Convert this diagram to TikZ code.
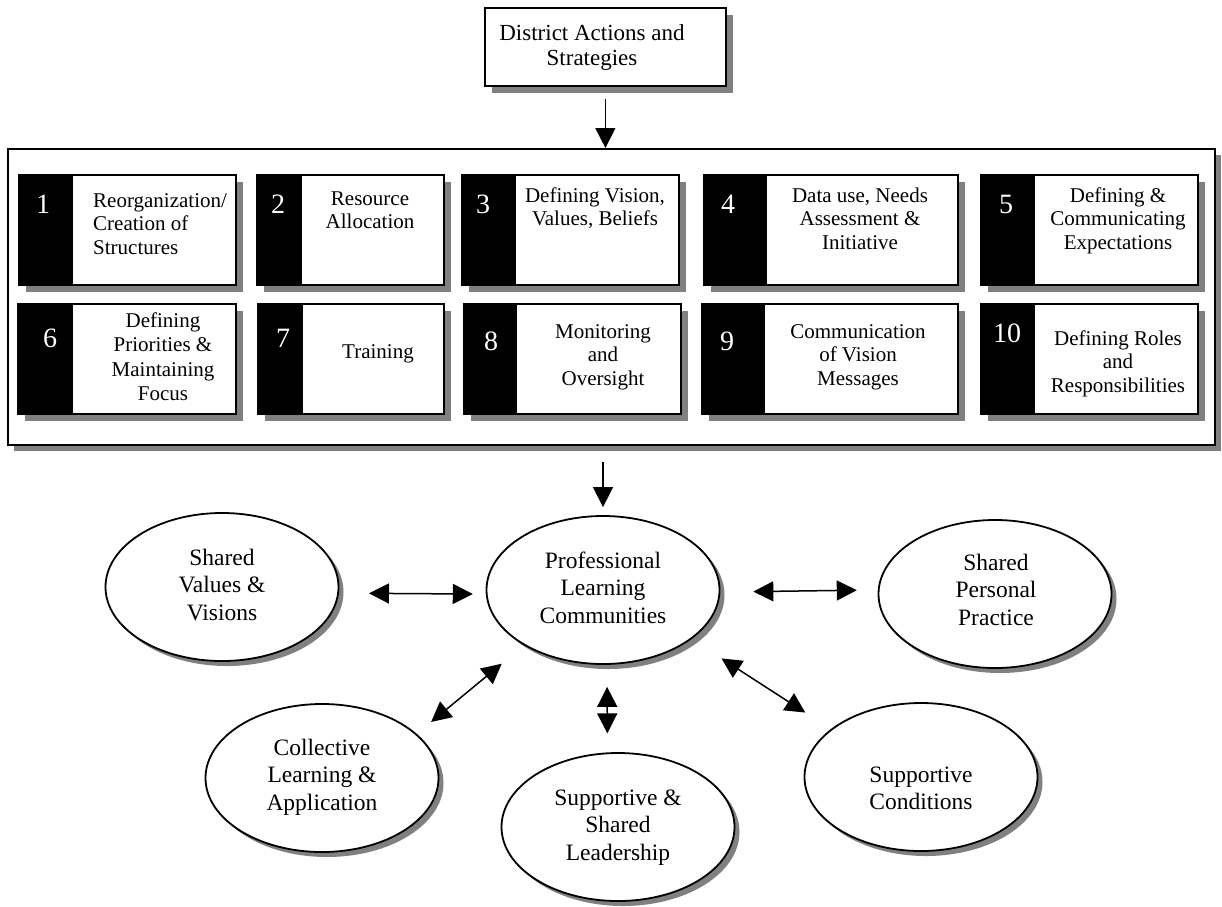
\documentclass[tikz,border=0pt]{standalone}
\usepackage{fontspec}
\setmainfont{Liberation Serif}
\usetikzlibrary{arrows.meta,shapes.geometric,shadows,calc}
\definecolor{shadowgray}{HTML}{808080}
\tikzset{
  shad/.style={drop shadow={shadow xshift=#1, shadow yshift=-#1, fill=shadowgray, opacity=1}},
  frame/.style={rectangle, draw, line width=1.8pt, fill=white, inner sep=0pt, anchor=north west},
  abox/.style={frame, shad=7pt},
  ell/.style={ellipse, draw, line width=1.8pt, fill=white, inner sep=0pt,
              minimum width=233pt, minimum height=148pt, shad=5pt},
  btxt/.style={inner sep=0pt, align=center, anchor=base, font=\fontsize{21}{23.5}\selectfont},
  numtxt/.style={inner sep=0pt, text=white, anchor=base, font=\fontsize{28}{30}\selectfont},
  etxt/.style={inner sep=0pt, align=center, anchor=base, font=\fontsize{23.5}{27.5}\selectfont},
  ttxt/.style={inner sep=0pt, align=center, anchor=base, font=\fontsize{23}{25}\selectfont},
  conn/.style={line width=1.5pt, >={Triangle[length=20pt,width=20pt]}}
}
\newcommand{\actbox}[5]{%
  \pgfmathsetmacro\actboxw{#3-#2}%
  \pgfmathsetmacro\actboxs{#4-#2}%
  \node[abox, minimum width=\actboxw pt, minimum height=110pt] (#1) at (#2,#5) {};
  \fill (#1.north west) rectangle ($(#1.south west)+(\actboxs,0)$);
}
\begin{document}
\begin{tikzpicture}[x=1pt,y=-1pt]
\useasboundingbox (0,0) rectangle (1222,906);

% top box
\node[frame, shad=7pt, minimum width=241pt, minimum height=78pt] (top) at (484,7) {};
\node[ttxt] (toplbl) at (592,65) {District Actions and\\Strategies};

% big container
\node[frame, shad=6pt, minimum width=1207pt, minimum height=296pt] (big) at (7,148) {};

% action boxes
\actbox{b1}{18}{235}{73}{174}
\actbox{b2}{256}{443}{302}{174}
\actbox{b3}{461}{678}{516}{174}
\actbox{b4}{703}{957}{767}{174}
\actbox{b5}{980}{1197}{1035}{174}
\actbox{b6}{17}{235}{73}{303}
\actbox{b7}{257}{443}{303}{303}
\actbox{b8}{463}{680}{517}{303}
\actbox{b9}{701}{957}{765}{303}
\actbox{b10}{980}{1197}{1035}{303}

\node[numtxt] (n1) at (43,213) {1};
\node[numtxt] (n2) at (278,213) {2};
\node[numtxt] (n3) at (483,213) {3};
\node[numtxt] (n4) at (728,213) {4};
\node[numtxt] (n5) at (1006,213) {5};
\node[numtxt] (n6) at (50,347) {6};
\node[numtxt] (n7) at (283,347) {7};
\node[numtxt] (n8) at (491,350) {8};
\node[numtxt] (n9) at (727,350) {9};
\node[numtxt] (n10) at (1007,342) {10};

\node[btxt, anchor=base west, align=left] (t1) at (93,254) {Reorganization/\\Creation of\\Structures};
\node[btxt] (t2) at (370,228.5) {Resource\\Allocation};
\node[btxt] (t3) at (595,225.5) {Defining Vision,\\Values, Beliefs};
\node[btxt] (t4) at (860,249) {Data use, Needs\\Assessment \&\\Initiative};
\node[btxt] (t5) at (1118,249) {Defining \&\\Communicating\\Expectations};
\node[btxt, font=\fontsize{21}{24.5}\selectfont] (t6) at (163,400.5) {Defining\\Priorities \&\\Maintaining\\Focus};
\node[btxt] (t7) at (378,358) {Training};
\node[btxt] (t8) at (603,385) {Monitoring\\and\\Oversight};
\node[btxt] (t9) at (858,385) {Communication\\of Vision\\Messages};
\node[btxt] (t10) at (1118,392) {Defining Roles\\and\\Responsibilities};

% ellipses
\node[ell] (sv) at (222,587) {};
\node[ell] (plc) at (603,590) {};
\node[ell] (spp) at (995,594) {};
\node[ell] (cla) at (322,778) {};
\node[ell] (ssl) at (618,827) {};
\node[ell] (sc) at (921,777) {};

\node[etxt] (svl) at (222,620) {Shared\\Values \&\\Visions};
\node[etxt] (plcl) at (603,623) {Professional\\Learning\\Communities};
\node[etxt] (sppl) at (996,625) {Shared\\Personal\\Practice};
\node[etxt] (clal) at (322,810) {Collective\\Learning \&\\Application};
\node[etxt] (ssll) at (618,860) {Supportive \&\\Shared\\Leadership};
\node[etxt] (scl) at (921,809.5) {Supportive\\Conditions};

% connectors
\draw[conn,->, shorten <=12pt] (top.south) -- (top.south |- big.north);
\draw[conn,->, shorten <=16pt, shorten >=8pt] (plc.north |- big.south) -- (plc.north);
\draw[conn,<->, shorten <=30pt, shorten >=13pt] (sv.-3) -- (plc.182);
\draw[conn,<->, shorten <=33pt, shorten >=21pt] (plc.-1) -- (spp.178);
\draw[conn,<->, shorten <=18.6pt, shorten >=28.8pt] (cla.25) -- (plc.215);
\draw[conn,<->, shorten <=22pt, shorten >=19pt] (plc.273) -- (ssl.98);
\draw[conn,<->, shorten <=35.6pt, shorten >=30.4pt] (plc.331) -- (sc.152);
\end{tikzpicture}
\end{document}
